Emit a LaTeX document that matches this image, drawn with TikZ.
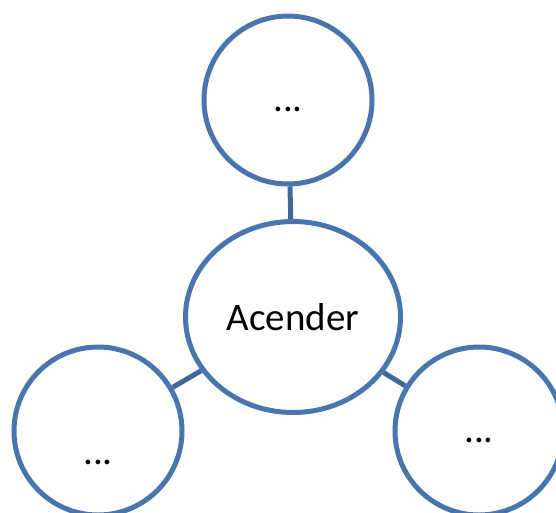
\documentclass[tikz,border=0pt]{standalone}
\usepackage{fontspec}
\setmainfont{Carlito}
\usetikzlibrary{shapes.geometric}
\definecolor{ringblue}{RGB}{72,117,172}
\definecolor{linkblue}{RGB}{64,104,152}

\begin{document}
\begin{tikzpicture}[x=1pt, y=-1pt,
    ring/.style={circle, draw=ringblue, line width=5pt, minimum size=168pt, inner sep=0pt, font=\fontsize{39}{47}\selectfont},
    link/.style={draw=linkblue, line width=5pt}]
    \useasboundingbox (0,0) rectangle (556,512);

    % centre node
    \node[ring, ellipse, minimum width=215pt, minimum height=191pt] (acender) at (293,317) {Acender};

    % outer circles
    \foreach \name/\x/\y/\h in {topring/288/100/22pt, leftring/98/431/66pt, rightring/479/431/22pt} {
        \node[ring, text height=\h, text depth=0pt] (\name) at (\x,\y) {...};
        \draw[link] (acender) -- (\name);
    }
\end{tikzpicture}
\end{document}
